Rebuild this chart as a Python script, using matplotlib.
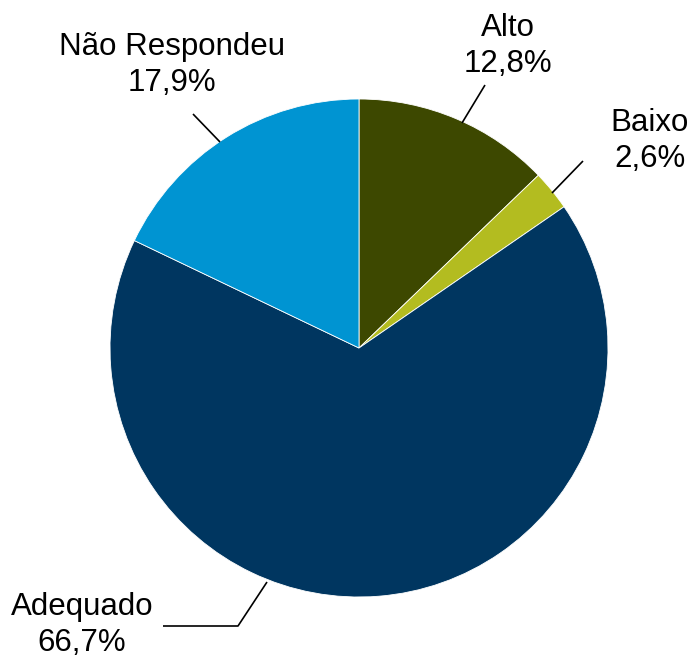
import matplotlib
matplotlib.use("Agg")
import matplotlib.pyplot as plt

categories = ["Alto", "Baixo", "Adequado", "Não Respondeu"]
values = [12.8, 2.6, 66.7, 17.9]
colors = ["#3D4800", "#B3BC20", "#003660", "#0094D2"]

W, H = 692, 659
fig = plt.figure(figsize=(W / 100, H / 100), dpi=100)
ax = fig.add_axes([0, 0, 1, 1])

cx, cy, r = 359, H - 348, 249
ax.pie(values, colors=colors, startangle=90, counterclock=False,
       center=(cx, cy), radius=r, frame=True,
       wedgeprops=dict(edgecolor="white", linewidth=0.6))
ax.set_xlim(0, W)
ax.set_ylim(0, H)
ax.axis("off")

def fmt(lbl, v):
    return f"{lbl}\n{v:.1f}%".replace(".", ",")

# label layout: (text x, text y, leader line points) in pixel coords (y from top)
layout = {
    "Alto": ((508, 46), [(485, 85), (462, 123)]),
    "Baixo": ((650, 141), [(583, 161), (552, 193)]),
    "Adequado": ((82, 625), [(163, 626), (238, 626), (267, 582)]),
    "Não Respondeu": ((172, 65), [(193, 114), (220, 142)]),
}
for lbl, v in zip(categories, values):
    (tx, ty), pts = layout[lbl]
    ax.text(tx, H - ty, fmt(lbl, v), ha="center", va="center", fontsize=22.5,
            family=["Liberation Sans", "DejaVu Sans"], linespacing=1.22, color="black")
    ax.plot([p[0] for p in pts], [H - p[1] for p in pts], color="black", lw=1.2,
            solid_capstyle="butt")

fig.savefig("out.png", dpi=100)
